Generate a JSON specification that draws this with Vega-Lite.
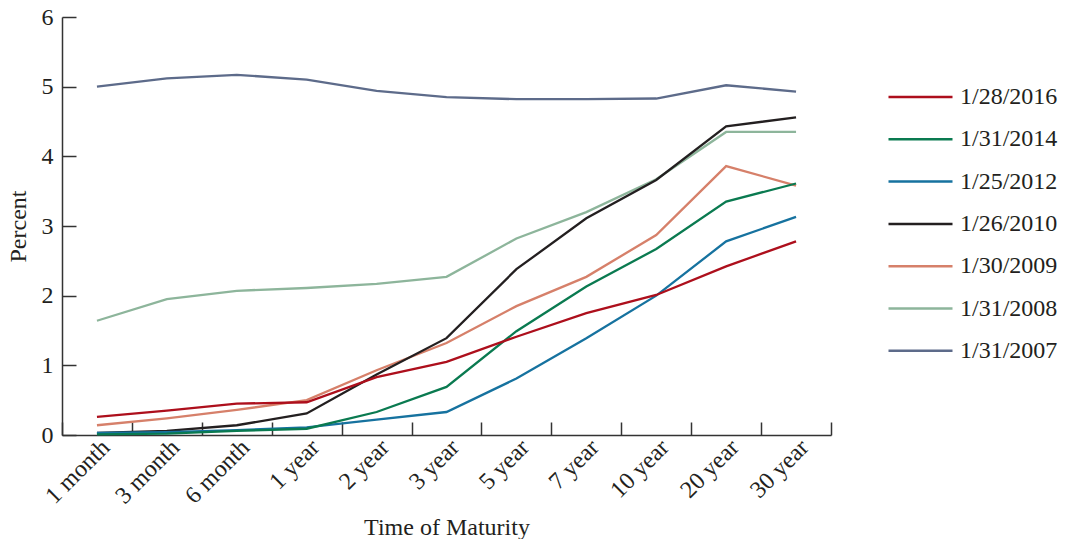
{
  "$schema": "https://vega.github.io/schema/vega-lite/v6.json",
  "width": 769,
  "height": 418,
  "autosize": "none",
  "padding": {"left": 62, "top": 17, "right": 239, "bottom": 104},
  "background": "white",
  "config": {
    "font": "Liberation Serif",
    "view": {"stroke": null},
    "axis": {"domainColor": "#333333", "tickColor": "#333333", "labelColor": "#231f20", "titleColor": "#231f20", "labelFont": "Liberation Serif", "titleFont": "Liberation Serif", "titleFontWeight": "normal", "grid": false, "domainWidth": 1.5, "tickWidth": 1.5}
  },
  "data": {"values": [
    {"m":"1 month","d":"1/31/2007","v":5.00},{"m":"3 month","d":"1/31/2007","v":5.12},{"m":"6 month","d":"1/31/2007","v":5.17},{"m":"1 year","d":"1/31/2007","v":5.10},{"m":"2 year","d":"1/31/2007","v":4.94},{"m":"3 year","d":"1/31/2007","v":4.85},{"m":"5 year","d":"1/31/2007","v":4.82},{"m":"7 year","d":"1/31/2007","v":4.82},{"m":"10 year","d":"1/31/2007","v":4.83},{"m":"20 year","d":"1/31/2007","v":5.02},{"m":"30 year","d":"1/31/2007","v":4.93},
    {"m":"1 month","d":"1/31/2008","v":1.64},{"m":"3 month","d":"1/31/2008","v":1.95},{"m":"6 month","d":"1/31/2008","v":2.07},{"m":"1 year","d":"1/31/2008","v":2.11},{"m":"2 year","d":"1/31/2008","v":2.17},{"m":"3 year","d":"1/31/2008","v":2.27},{"m":"5 year","d":"1/31/2008","v":2.82},{"m":"7 year","d":"1/31/2008","v":3.20},{"m":"10 year","d":"1/31/2008","v":3.67},{"m":"20 year","d":"1/31/2008","v":4.35},{"m":"30 year","d":"1/31/2008","v":4.35},
    {"m":"1 month","d":"1/30/2009","v":0.14},{"m":"3 month","d":"1/30/2009","v":0.24},{"m":"6 month","d":"1/30/2009","v":0.36},{"m":"1 year","d":"1/30/2009","v":0.50},{"m":"2 year","d":"1/30/2009","v":0.93},{"m":"3 year","d":"1/30/2009","v":1.32},{"m":"5 year","d":"1/30/2009","v":1.85},{"m":"7 year","d":"1/30/2009","v":2.27},{"m":"10 year","d":"1/30/2009","v":2.87},{"m":"20 year","d":"1/30/2009","v":3.86},{"m":"30 year","d":"1/30/2009","v":3.58},
    {"m":"1 month","d":"1/26/2010","v":0.03},{"m":"3 month","d":"1/26/2010","v":0.06},{"m":"6 month","d":"1/26/2010","v":0.14},{"m":"1 year","d":"1/26/2010","v":0.31},{"m":"2 year","d":"1/26/2010","v":0.87},{"m":"3 year","d":"1/26/2010","v":1.39},{"m":"5 year","d":"1/26/2010","v":2.38},{"m":"7 year","d":"1/26/2010","v":3.11},{"m":"10 year","d":"1/26/2010","v":3.66},{"m":"20 year","d":"1/26/2010","v":4.43},{"m":"30 year","d":"1/26/2010","v":4.56},
    {"m":"1 month","d":"1/25/2012","v":0.03},{"m":"3 month","d":"1/25/2012","v":0.04},{"m":"6 month","d":"1/25/2012","v":0.07},{"m":"1 year","d":"1/25/2012","v":0.11},{"m":"2 year","d":"1/25/2012","v":0.22},{"m":"3 year","d":"1/25/2012","v":0.33},{"m":"5 year","d":"1/25/2012","v":0.81},{"m":"7 year","d":"1/25/2012","v":1.39},{"m":"10 year","d":"1/25/2012","v":2.00},{"m":"20 year","d":"1/25/2012","v":2.78},{"m":"30 year","d":"1/25/2012","v":3.13},
    {"m":"1 month","d":"1/31/2014","v":0.01},{"m":"3 month","d":"1/31/2014","v":0.02},{"m":"6 month","d":"1/31/2014","v":0.06},{"m":"1 year","d":"1/31/2014","v":0.09},{"m":"2 year","d":"1/31/2014","v":0.33},{"m":"3 year","d":"1/31/2014","v":0.69},{"m":"5 year","d":"1/31/2014","v":1.49},{"m":"7 year","d":"1/31/2014","v":2.13},{"m":"10 year","d":"1/31/2014","v":2.67},{"m":"20 year","d":"1/31/2014","v":3.35},{"m":"30 year","d":"1/31/2014","v":3.61},
    {"m":"1 month","d":"1/28/2016","v":0.26},{"m":"3 month","d":"1/28/2016","v":0.35},{"m":"6 month","d":"1/28/2016","v":0.45},{"m":"1 year","d":"1/28/2016","v":0.47},{"m":"2 year","d":"1/28/2016","v":0.83},{"m":"3 year","d":"1/28/2016","v":1.05},{"m":"5 year","d":"1/28/2016","v":1.41},{"m":"7 year","d":"1/28/2016","v":1.75},{"m":"10 year","d":"1/28/2016","v":2.01},{"m":"20 year","d":"1/28/2016","v":2.42},{"m":"30 year","d":"1/28/2016","v":2.78}
  ]},
  "mark": {"type": "line", "strokeWidth": 2.3, "strokeJoin": "miter"},
  "encoding": {
    "x": {
      "field": "m", "type": "ordinal", "sort": null,
      "scale": {"type": "band", "paddingInner": 0, "paddingOuter": 0},
      "axis": {"title": "Time of Maturity", "titleFontSize": 24, "titleY": 99, "titleBaseline": "alphabetic", "labelFontSize": 24, "labelAngle": -45, "labelAlign": "right", "labelBaseline": "top", "labelPadding": 13, "tickBand": "extent", "tickSize": -13}
    },
    "y": {
      "field": "v", "type": "quantitative",
      "scale": {"domain": [0, 6], "nice": false, "zero": true},
      "axis": {"title": "Percent", "titleFontSize": 24, "labelFontSize": 24, "values": [0,1,2,3,4,5,6], "tickSize": -14, "labelPadding": 23, "titleX": -32}
    },
    "color": {
      "field": "d", "type": "nominal",
      "scale": {
        "domain": ["1/28/2016","1/31/2014","1/25/2012","1/26/2010","1/30/2009","1/31/2008","1/31/2007"],
        "range": ["#ad0f1c","#0a7a50","#16729f","#231f20","#d6806a","#8db59b","#5d6b8a"]
      },
      "legend": {
        "title": null, "orient": "none", "legendX": 825, "legendY": 59,
        "symbolType": "stroke", "symbolSize": 4096, "symbolStrokeWidth": 2.5,
        "labelFontSize": 24, "labelFont": "Liberation Serif", "labelColor": "#231f20",
        "labelOffset": 6, "clipHeight": 42, "rowPadding": 0.3, "padding": 0
      }
    }
  }
}
